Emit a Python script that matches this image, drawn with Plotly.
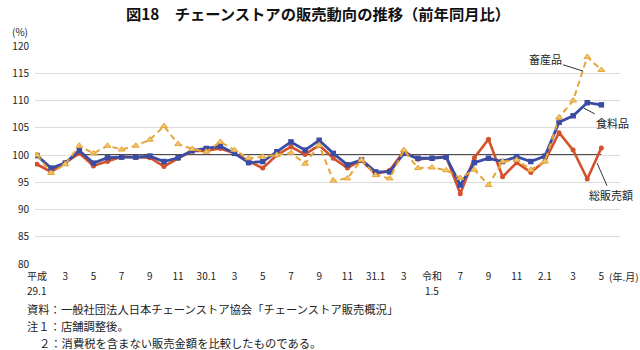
import plotly.graph_objects as go

# ---- data ----
months = list(range(41))  # 平成29.1 (2017.1) ... 令和2.5 (2020.5)
tick_idx = list(range(0, 41, 2))
tick_text = ["平成", "3", "5", "7", "9", "11", "30.1", "3", "5", "7", "9", "11",
             "31.1", "3", "令和", "7", "9", "11", "2.1", "3", "5"]
tick_sub_idx = [0, 28]
tick_sub_text = ["29.1", "1.5"]

total_sales = [98.3, 96.9, 98.6, 100.3, 98.0, 98.8, 99.7, 99.6, 99.5, 97.9, 99.4, 100.7,
               100.8, 101.2, 100.3, 98.9, 97.6, 100.0, 101.5, 100.1, 101.8, 99.4, 97.6, 99.0,
               96.5, 97.2, 100.7, 99.2, 99.4, 99.7, 92.9, 99.5, 102.9, 96.0, 98.6, 96.8,
               98.9, 104.1, 100.9, 95.6, 101.3]
food = [99.9, 97.6, 98.5, 100.8, 98.5, 99.5, 99.6, 99.6, 99.8, 98.8, 99.5, 100.8,
        101.2, 101.6, 100.3, 98.6, 98.8, 100.6, 102.4, 100.9, 102.7, 100.3, 98.2, 99.1,
        96.9, 96.9, 100.3, 99.4, 99.4, 99.6, 94.5, 98.6, 99.4, 98.8, 99.7, 98.8,
        99.8, 106.0, 107.2, 109.6, 109.2]
livestock = [100.0, 96.7, 98.3, 101.7, 100.3, 101.7, 101.0, 101.7, 102.8, 105.3, 102.0, 101.1,
             100.6, 102.4, 100.9, 99.4, 99.7, 100.0, 100.4, 98.4, 101.8, 95.3, 95.7, 99.1,
             96.3, 95.7, 100.9, 97.6, 97.7, 97.2, 95.8, 97.3, 94.5, 98.8, 99.1, 97.3,
             98.8, 106.9, 110.0, 118.0, 115.6]

y_ticks = [80, 85, 90, 95, 100, 105, 110, 115, 120]

RED = "#d4512b"
BLUE = "#3a4ca3"
GOLD = "#e6a53a"
FONT = "Noto Sans CJK JP"

# plot area in pixels
L, R, T, B = 25, 620, 46, 264
W, H = 640, 350
def px(x):
    return (x - L) / (R - L)
def py(y):
    return (B - y) / (B - T)

fig = go.Figure()
fig.add_trace(go.Scatter(x=months, y=total_sales, mode="lines+markers", name="総販売額",
                         line=dict(color=RED, width=2.6),
                         marker=dict(symbol="circle", size=5, color=RED)))
fig.add_trace(go.Scatter(x=months, y=food, mode="lines+markers", name="食料品",
                         line=dict(color=BLUE, width=2.8),
                         marker=dict(symbol="square", size=5.5, color=BLUE)))
fig.add_trace(go.Scatter(x=months, y=livestock, mode="lines+markers", name="畜産品",
                         line=dict(color=GOLD, width=2, dash="6px,4px"),
                         marker=dict(symbol="triangle-up", size=6, color="#f0c46a",
                                     line=dict(color=GOLD, width=1))))

fig.add_shape(type="line", xref="x", yref="y", x0=3, x1=40, y0=100, y1=100,
              line=dict(color="#111111", width=1.4), layer="below")

anns = []
# series labels with leader lines
anns.append(dict(x=38.7, y=115.4, xref="x", yref="y", text="畜産品", showarrow=True,
                 arrowhead=0, arrowwidth=1, arrowcolor="#333", ax=-38, ay=-12,
                 font=dict(family=FONT, size=11, color="#222")))
anns.append(dict(x=38.75, y=108.6, xref="x", yref="y", text="食料品", showarrow=True,
                 arrowhead=0, arrowwidth=1, arrowcolor="#333", ax=29, ay=15,
                 font=dict(family=FONT, size=11, color="#222")))
anns.append(dict(x=39.7, y=98.5, xref="x", yref="y", text="総販売額", showarrow=True,
                 arrowhead=0, arrowwidth=1, arrowcolor="#333", ax=14, ay=32,
                 font=dict(family=FONT, size=11, color="#222")))
# title
anns.append(dict(x=px(313), y=py(13), xref="paper", yref="paper", showarrow=False,
                 text="<b>図18　チェーンストアの販売動向の推移（前年同月比）</b>",
                 xanchor="center", yanchor="middle",
                 font=dict(family=FONT, size=15.3, color="#111")))
# unit labels
anns.append(dict(x=px(0), y=py(31), xref="paper", yref="paper", showarrow=False,
                 text="(%)", xanchor="left", yanchor="middle",
                 font=dict(family=FONT, size=10, color="#222")))
anns.append(dict(x=px(607), y=py(276), xref="paper", yref="paper", showarrow=False,
                 text="(年.月)", xanchor="left", yanchor="middle",
                 font=dict(family=FONT, size=10, color="#222")))
# second line of era tick labels
for xi, t in zip(tick_sub_idx, tick_sub_text):
    anns.append(dict(x=xi, y=py(290), xref="x", yref="paper", showarrow=False,
                     text=t, xanchor="center", yanchor="middle",
                     font=dict(family=FONT, size=10, color="#222")))
# notes
notes = [(15, 309, "資料：一般社団法人日本チェーンストア協会「チェーンストア販売概況」"),
         (15, 326, "注１：店舗調整後。"),
         (27, 343, "２：消費税を含まない販売金額を比較したものである。")]
for x0, y0, t in notes:
    anns.append(dict(x=px(x0), y=py(y0), xref="paper", yref="paper", showarrow=False,
                     text=t, xanchor="left", yanchor="middle",
                     font=dict(family=FONT, size=11.3, color="#222")))

fig.update_layout(
    width=W, height=H,
    margin=dict(l=L, r=W - R, t=T, b=H - B, pad=0),
    paper_bgcolor="white", plot_bgcolor="white",
    showlegend=False,
    annotations=anns,
    font=dict(family=FONT, color="#222"),
)
fig.update_xaxes(range=[-0.14, 41.32], tickmode="array", tickvals=tick_idx, ticktext=tick_text,
                 showgrid=False, zeroline=False, showline=False, ticks="",
                 tickfont=dict(family=FONT, size=10, color="#222"), ticklabelstandoff=5)
fig.update_yaxes(range=[80, 120], tickmode="array", tickvals=y_ticks,
                 showgrid=True, gridcolor="#dcdcdc", gridwidth=1, zeroline=False,
                 showline=False, ticks="", tickfont=dict(family=FONT, size=10, color="#222"),
                 ticklabelstandoff=5)

fig.write_html("out.html")
